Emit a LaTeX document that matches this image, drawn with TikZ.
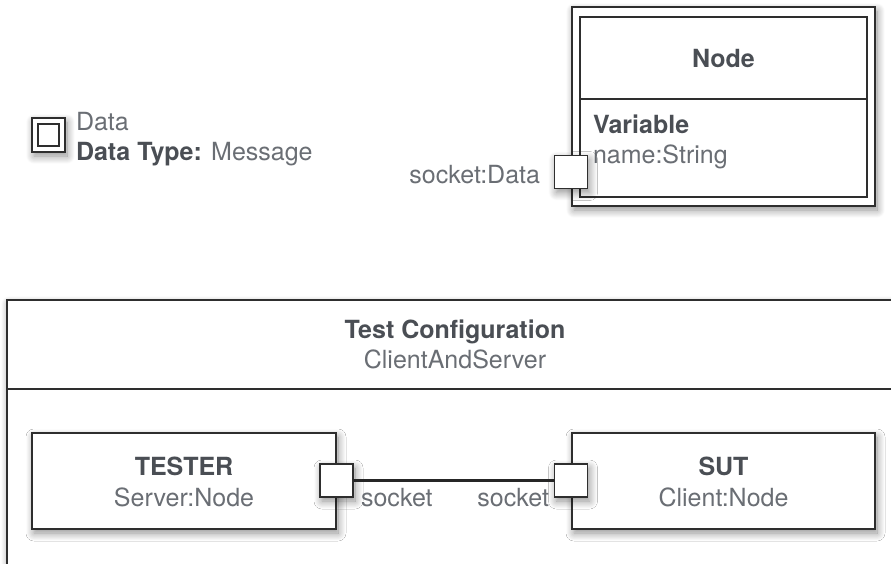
\documentclass[tikz,border=0pt]{standalone}
\usepackage{fontspec}
\setmainfont{TeX Gyre Heros}
\usetikzlibrary{shadows.blur}
\definecolor{linec}{HTML}{2E2E2E}
\definecolor{boldc}{HTML}{4A4E54}
\definecolor{regc}{HTML}{6A6E74}
\tikzset{
  every node/.style={inner sep=0pt, outer sep=0pt},
  frame/.style={draw=linec, line width=1.4pt, fill=white},
  soft/.style={blur shadow={shadow xshift=2pt, shadow yshift=-4pt,
      shadow blur radius=8pt, shadow blur steps=12, shadow opacity=45}},
  portbox/.style={frame, soft, minimum width=33pt, minimum height=33pt},
  title/.style={font=\fontsize{25}{30}\selectfont\bfseries, text=boldc},
  plain/.style={font=\fontsize{25}{30}\selectfont, text=regc},
  wire/.style={draw=black!85, line width=3pt},
}
\begin{document}
\begin{tikzpicture}[x=1pt, y=-1pt]
\useasboundingbox (0,0) rectangle (891,563);
\clip (0,0) rectangle (891,563);

% Data type icon and its description
\node[frame, soft, minimum width=33pt, minimum height=34pt] (icon) at (48.5,135) {};
\node[frame, minimum width=21pt, minimum height=22pt] (iconin) at (icon.center) {};
\node[plain, anchor=base west] (dname) at (76,130) {Data};
\node[plain, anchor=base west] (dtype) at (76,160) {\textbf{\color{boldc}Data Type:} Message};

% Node class with a double border
\node[frame, soft, minimum width=303pt, minimum height=199pt] (nodeout) at (723.5,106.5) {};
\node[frame, minimum width=287pt, minimum height=180pt] (nodein) at (723.5,107) {};
\draw[draw=linec, line width=1.4pt] (nodein.west |- 0,99) -- (nodein.east |- 0,99);
\node[title, anchor=base] (nodetitle) at (723.5,67) {Node};
\node[title, anchor=base west] (varhead) at (593,133) {Variable};
\node[plain, anchor=base west] (varname) at (593,163) {name:String};
\node[portbox] (nport) at (571,172) {};
\node[plain, anchor=base east] (nportlbl) at (540,183) {socket:Data};

% Test configuration frame
\node[frame, soft, minimum width=893pt, minimum height=300pt] (tc) at (453.5,450) {};
\draw[draw=linec, line width=1.4pt] (tc.west |- 0,389) -- (tc.east |- 0,389);
\node[title, anchor=base] (tctitle) at (455,338) {Test Configuration};
\node[plain, anchor=base] (tcname) at (455,368) {ClientAndServer};

% Parts
\node[frame, soft, minimum width=304pt, minimum height=96pt] (tester) at (184,481) {};
\node[title, anchor=base] (testerlbl) at (184,475) {TESTER};
\node[plain, anchor=base] (testertype) at (184,506) {Server:Node};

\node[frame, soft, minimum width=303pt, minimum height=96pt] (sut) at (723.5,481) {};
\node[title, anchor=base] (sutlbl) at (723.5,475) {SUT};
\node[plain, anchor=base] (suttype) at (723.5,506) {Client:Node};

% Ports and the connector between them
\node[portbox] (tport) at (336.5,480.5) {};
\node[portbox] (sport) at (571,480.5) {};
\draw[wire] (tport.east) -- (sport.west);
\node[plain, anchor=base west] (tportlbl) at (361,506) {socket};
\node[plain, anchor=base east] (sportlbl) at (549,506) {socket};
\end{tikzpicture}
\end{document}
